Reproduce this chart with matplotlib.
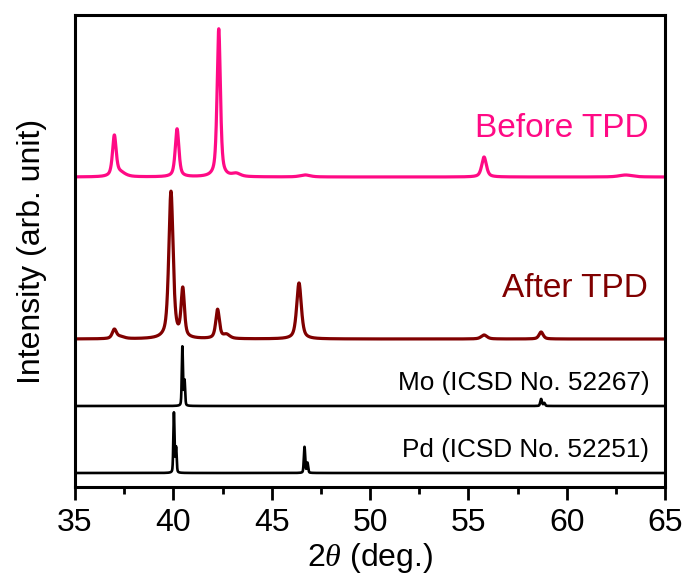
import numpy as np
import matplotlib
matplotlib.use("Agg")
import matplotlib.pyplot as plt
from matplotlib.ticker import MultipleLocator

plt.rcParams['font.family'] = ['Liberation Sans', 'DejaVu Sans']
plt.rcParams['mathtext.fontset'] = 'custom'
plt.rcParams['mathtext.it'] = 'Liberation Serif:italic'

# 피크 데이터 (위치 deg, 높이 a.u., 반치폭 deg) - 그림에서 읽은 값
before_base = 310
before_pos = [37.0, 37.3, 40.19, 42.31, 43.2, 46.7, 55.8, 63.0]
before_h = [40, 4, 48, 148, 3, 2, 20, 2]
before_w = [0.22, 0.6, 0.22, 0.2, 0.5, 0.6, 0.28, 0.8]

after_base = 148
after_pos = [37.0, 37.3, 39.88, 40.48, 42.25, 42.7, 46.39, 55.8, 58.7]
after_h = [9, 2, 147, 48, 29, 4, 56, 4, 7]
after_w = [0.25, 0.5, 0.26, 0.2, 0.22, 0.4, 0.28, 0.35, 0.25]

mo_base = 81
mo_pos = [40.46, 40.57, 58.7, 58.86]
mo_h = [59, 25, 7, 3]
mo_w = [0.07, 0.07, 0.1, 0.1]

pd_base = 14
pd_pos = [40.03, 40.14, 46.67, 46.82]
pd_h = [60, 25, 26, 10]
pd_w = [0.07, 0.07, 0.08, 0.08]

tt = np.arange(35, 65.001, 0.005)


def pattern(base, pos, h, w, eta=0.6):
    y = np.full_like(tt, float(base))
    for p, a, f in zip(pos, h, w):
        g = np.exp(-4 * np.log(2) * ((tt - p) / f) ** 2)
        l = 1 / (1 + 4 * ((tt - p) / f) ** 2)
        y += a * (eta * l + (1 - eta) * g)
    return y


fig = plt.figure(figsize=(6.88, 5.80), dpi=100)
ax = fig.add_axes([75 / 688, 1 - 487 / 580, 590 / 688, 472 / 580])

ax.plot(tt, pattern(before_base, before_pos, before_h, before_w), color='#FF0A85', lw=2.3)
ax.plot(tt, pattern(after_base, after_pos, after_h, after_w), color='#800000', lw=2.3)
ax.plot(tt, pattern(mo_base, mo_pos, mo_h, mo_w, eta=0.3), color='black', lw=1.9)
ax.plot(tt, pattern(pd_base, pd_pos, pd_h, pd_w, eta=0.3), color='black', lw=1.9)

ax.text(64.15, 350, 'Before TPD', color='#FF0A85', fontsize=24, ha='right', va='baseline')
ax.text(64.15, 190, 'After TPD', color='#800000', fontsize=24, ha='right', va='baseline')
ax.text(64.2, 97, 'Mo (ICSD No. 52267)', color='black', fontsize=18.8, ha='right', va='baseline')
ax.text(64.2, 30, 'Pd (ICSD No. 52251)', color='black', fontsize=18.8, ha='right', va='baseline')

ax.set_xlim(35, 65)
ax.set_ylim(0, 472)
ax.xaxis.set_major_locator(MultipleLocator(5))
ax.xaxis.set_minor_locator(MultipleLocator(2.5))
ax.set_yticks([])
ax.tick_params(axis='x', which='major', direction='out', length=9, width=2, labelsize=23, pad=6)
ax.tick_params(axis='x', which='minor', direction='out', length=5, width=2)
for s in ax.spines.values():
    s.set_linewidth(2.2)

ax.set_xlabel(r'2$\it{\theta}$ (deg.)', fontsize=23, labelpad=2)
ax.set_ylabel('Intensity (arb. unit)', fontsize=23, labelpad=20)

fig.savefig('out.png', dpi=100)
